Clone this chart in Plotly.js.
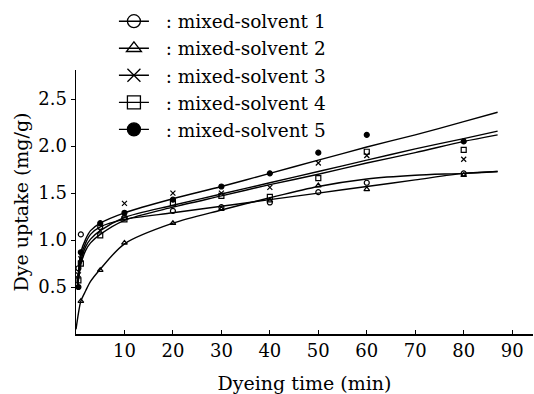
<!DOCTYPE html>
<html>
<head>
<meta charset="utf-8">
<script src="https://cdn.plot.ly/plotly-3.0.1.min.js"></script>
<style>html,body{margin:0;padding:0;background:#fff;}#chart{width:534px;height:394px;}</style>
</head>
<body>
<div id="chart"></div>
<script>
// Measured data points (dyeing time in min, dye uptake in mg/g)
const timeMin = [0.5, 1, 5, 10, 20, 30, 40, 50, 60, 80];
const solvent1 = [0.70, 1.06, 1.14, 1.24, 1.31, 1.35, 1.40, 1.51, 1.61, 1.71];
const solvent2 = [null, 0.35, 0.68, 0.97, 1.18, 1.33, 1.42, 1.58, 1.54, 1.69];
const solvent3 = [0.63, 0.80, 1.10, 1.39, 1.50, 1.50, 1.56, 1.82, 1.90, 1.86];
const solvent4 = [0.57, 0.75, 1.05, 1.22, 1.39, 1.47, 1.46, 1.66, 1.94, 1.96];
const solvent5 = [0.50, 0.87, 1.18, 1.29, 1.43, 1.57, 1.71, 1.93, 2.12, 2.05];

// Fitted curves
const fitTime = [0.3, 1, 2, 3, 5, 10, 20, 30, 40, 50, 60, 70, 80, 87];
const fit1 = [0.50, 0.82, 0.97, 1.06, 1.14, 1.22, 1.29, 1.36, 1.43, 1.50, 1.57, 1.64, 1.71, 1.73];
const fit3 = [0.50, 0.78, 0.93, 1.01, 1.10, 1.24, 1.37, 1.49, 1.61, 1.73, 1.85, 1.97, 2.08, 2.16];
const fit4 = [0.48, 0.74, 0.89, 0.97, 1.06, 1.21, 1.35, 1.47, 1.59, 1.70, 1.82, 1.93, 2.05, 2.12];
const fit5 = [0.55, 0.87, 1.01, 1.10, 1.18, 1.29, 1.44, 1.57, 1.71, 1.85, 1.99, 2.12, 2.26, 2.36];
const fit2Time = [0, 0.5, 1, 2, 3, 5, 10, 20, 30, 40, 50, 60, 70, 80, 87];
const fit2 = [0.05, 0.22, 0.35, 0.46, 0.56, 0.69, 0.96, 1.18, 1.32, 1.45, 1.57, 1.65, 1.69, 1.71, 1.73];

const seriesNames = ['mixed-solvent 1', 'mixed-solvent 2', 'mixed-solvent 3', 'mixed-solvent 4', 'mixed-solvent 5'];
const xTicks = [10, 20, 30, 40, 50, 60, 70, 80, 90];
const yTicks = [0.5, 1.0, 1.5, 2.0, 2.5];

const symbols = ['circle-open', 'triangle-up-open', 'x-thin-open', 'square-open', 'circle'];
const pts = [solvent1, solvent2, solvent3, solvent4, solvent5];
const fits = [[fitTime, fit1], [fit2Time, fit2], [fitTime, fit3], [fitTime, fit4], [fitTime, fit5]];
const font = 'DejaVu Serif, Liberation Serif, serif';

const traces = [];
for (let i = 0; i < 5; i++) {
  traces.push({
    x: fits[i][0], y: fits[i][1], mode: 'lines', type: 'scatter',
    line: {color: '#000', width: 1.4, shape: 'spline', smoothing: 0.8},
    showlegend: false, hoverinfo: 'skip'
  });
  traces.push({
    x: timeMin, y: pts[i], mode: 'markers', type: 'scatter',
    marker: {symbol: symbols[i], size: 5, color: '#000', line: {color: '#000', width: 1.2}},
    showlegend: false
  });
}
for (let i = 0; i < 5; i++) {
  traces.push({
    x: [null], y: [null], mode: 'lines+markers', type: 'scatter',
    name: '\u00a0\u00a0: ' + seriesNames[i],
    line: {color: '#000', width: 1.4},
    marker: {symbol: symbols[i], size: 13, color: '#000', line: {color: '#000', width: 1.3}}
  });
}

const layout = {
  width: 534, height: 394,
  margin: {l: 76, r: 1, t: 70, b: 60},
  paper_bgcolor: '#fff', plot_bgcolor: '#fff',
  font: {family: font, color: '#000', size: 18},
  showlegend: true,
  legend: {x: 0.083, y: 1.255, xanchor: 'left', yanchor: 'top', bgcolor: 'rgba(0,0,0,0)',
           font: {family: font, size: 18.5, color: '#000'}, itemwidth: 30},
  xaxis: {range: [0, 94.3], showline: true, linecolor: '#000', linewidth: 1.5,
          ticks: 'inside', ticklen: 4, tickcolor: '#000', tickvals: xTicks,
          showgrid: false, zeroline: false, tickfont: {family: font, size: 18},
          title: {text: 'Dyeing time (min)', font: {family: font, size: 19}, standoff: 18}},
  yaxis: {range: [0, 2.81], showline: true, linecolor: '#000', linewidth: 1.5,
          ticks: 'outside', ticklen: 4, tickcolor: '#000', tickvals: yTicks,
          ticktext: yTicks.map(v => v.toFixed(1)),
          showgrid: false, zeroline: false, tickfont: {family: font, size: 18},
          title: {text: 'Dye uptake (mg/g)', font: {family: font, size: 19}, standoff: 4}}
};

Plotly.newPlot('chart', traces, layout, {displayModeBar: false, staticPlot: true});
</script>
</body>
</html>
